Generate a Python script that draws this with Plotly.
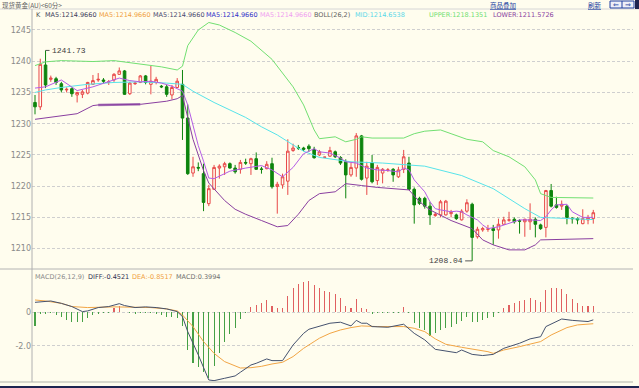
import plotly.graph_objects as go

# ---------------- data ----------------
opens = [1233.4,1232.7,1239.4,1237.1,1237.2,1236.4,1235.4,1235.6,1234.6,1234.7,
         1234.9,1236.3,1237.0,1237.0,1236.6,1237.0,1237.9,1238.45,1234.8,1236.4,
         1236.6,1237.65,1236.3,1236.6,1236.0,1235.9,1234.6,1235.8,1236.3,1230.9,
         1222.1,1223.0,1222.0,1217.2,1219.5,1222.9,1223.1,1223.6,1222.9,1222.7,
         1223.8,1223.6,1224.4,1222.75,1222.8,1223.6,1219.95,1220.2,1220.8,1225.7,
         1226.2,1226.1,1226.4,1225.9,1225.0,1224.6,1224.8,1225.5,1224.6,1223.9,
         1221.8,1222.9,1228.05,1221.3,1223.7,1220.9,1222.1,1222.55,1222.7,1221.5,
         1222.7,1223.7,1219.5,1218.05,1218.05,1216.8,1215.3,1215.4,1215.4,1215.6,
         1215.4,1214.6,1216.0,1217.1,1211.9,1213.0,1213.1,1213.2,1213.0,1213.9,
         1214.55,1214.7,1214.45,1214.3,1214.3,1214.7,1213.8,1213.4,1219.3,1217.0,
         1216.8,1216.8,1214.9,1214.8,1214.0,1214.6,1214.8]
highs = [1234.6,1240.4,1241.73,1237.7,1237.5,1236.7,1235.8,1235.8,1235.1,1235.4,
         1236.7,1237.8,1238.1,1237.3,1237.0,1238.1,1239.0,1238.6,1236.7,1236.7,
         1237.8,1237.8,1239.25,1237.5,1236.2,1236.2,1236.2,1237.3,1238.6,1233.1,
         1224.7,1223.8,1223.6,1220.2,1223.4,1223.5,1223.9,1223.8,1223.4,1224.2,
         1224.4,1224.55,1225.4,1223.1,1224.0,1224.55,1220.7,1222.0,1227.5,1226.8,
         1226.6,1226.3,1226.7,1226.3,1225.8,1224.7,1226.3,1225.7,1224.8,1224.3,
         1223.7,1228.5,1228.2,1223.9,1225.0,1223.4,1222.9,1222.9,1222.9,1223.1,
         1225.8,1224.7,1219.8,1218.3,1218.3,1217.5,1215.75,1217.8,1217.8,1216.2,
         1215.6,1216.3,1217.9,1217.35,1213.5,1213.5,1213.8,1213.8,1214.8,1215.1,
         1215.9,1215.0,1214.7,1214.8,1217.25,1215.0,1214.0,1219.4,1220.35,1218.3,
         1217.7,1217.0,1215.0,1215.0,1216.3,1215.4,1216.2]
lows = [1231.5,1232.2,1235.7,1236.7,1236.2,1235.0,1235.0,1234.3,1233.4,1234.1,
        1234.7,1236.2,1236.7,1236.5,1236.2,1236.7,1237.8,1234.6,1234.6,1236.2,
        1236.5,1236.3,1234.7,1236.3,1235.7,1234.3,1233.9,1235.7,1227.4,1221.8,
        1221.5,1222.4,1216.0,1216.8,1219.4,1221.2,1221.8,1222.8,1222.0,1222.0,
        1223.4,1221.8,1222.6,1222.0,1222.7,1219.6,1215.6,1219.6,1218.6,1225.5,
        1225.8,1225.6,1225.5,1224.4,1224.8,1224.5,1224.7,1224.5,1223.4,1218.05,
        1221.5,1221.5,1220.9,1218.6,1220.45,1220.2,1220.45,1222.3,1220.7,1221.3,
        1222.1,1219.4,1214.0,1217.0,1216.4,1213.8,1215.1,1215.0,1215.3,1215.0,
        1214.6,1214.5,1215.75,1208.04,1211.6,1212.7,1212.7,1210.6,1211.6,1213.8,
        1214.3,1214.0,1212.4,1211.9,1213.0,1211.8,1213.0,1211.8,1216.6,1216.4,
        1216.2,1213.9,1214.0,1213.9,1213.9,1213.9,1214.0]
closes = [1232.7,1239.5,1236.2,1237.3,1236.6,1235.4,1235.5,1234.8,1235.0,1235.1,
          1236.6,1236.9,1237.1,1236.8,1236.7,1237.9,1238.45,1234.7,1236.5,1236.5,
          1237.65,1236.6,1236.8,1237.1,1235.9,1234.7,1235.8,1236.8,1230.9,1222.0,
          1223.1,1222.9,1217.4,1219.6,1223.0,1223.2,1223.6,1222.9,1222.3,1223.8,
          1223.7,1224.4,1222.7,1222.7,1223.5,1219.9,1220.3,1221.5,1225.6,1226.1,
          1226.1,1225.9,1226.0,1224.55,1225.5,1224.65,1225.7,1224.7,1223.7,1221.8,
          1223.0,1228.05,1221.1,1223.2,1220.7,1223.0,1222.7,1222.6,1221.8,1222.6,
          1224.7,1219.5,1217.0,1217.25,1216.8,1215.4,1215.5,1217.5,1217.6,1215.8,
          1214.8,1216.0,1217.35,1211.8,1213.1,1213.2,1213.15,1212.9,1213.9,1214.6,
          1214.6,1214.3,1214.4,1214.7,1214.7,1213.9,1213.2,1219.3,1216.8,1216.6,
          1217.1,1215.0,1214.8,1214.6,1214.8,1215.0,1215.75]
bars = list(range(len(closes)))

ma5_idx = [0,2,5,8,11,14,16,18,20,22,24,26,28,29,30,31,32,33,34,37,40,43,45,47,49,51,53,
           54,56,58,59,61,63,65,67,69,70,71,72,74,75,76,77,79,80,81,82,84,85,86,88,90,92,
           94,96,97,98,99,101,102,104,106]
ma5_val = [1235.7,1235.9,1237.0,1235.3,1235.9,1236.7,1237.3,1236.9,1236.7,1236.8,1236.5,
           1236.0,1235.2,1233.0,1229.5,1226.5,1224.0,1221.3,1221.2,1222.4,1222.9,1223.3,
           1222.6,1221.5,1223.0,1225.2,1226.0,1225.5,1225.3,1224.5,1223.9,1223.7,1222.9,
           1222.6,1222.5,1222.3,1222.9,1222.6,1221.0,1219.1,1217.5,1216.4,1216.2,1215.9,
           1216.0,1215.9,1215.4,1214.6,1213.8,1213.2,1213.5,1214.0,1214.6,1214.6,1214.5,
           1215.1,1216.2,1217.0,1217.1,1215.9,1215.0,1215.0]

mid_idx = [0,2,5,10,15,20,25,28,30,34,37,40,43,46,49,51,54,57,60,66,71,74,81,87,93,96,106]
mid_val = [1235.0,1235.4,1235.8,1236.3,1236.6,1236.7,1236.5,1236.3,1235.2,1233.4,1232.2,
           1231.0,1229.5,1228.2,1226.6,1225.6,1224.6,1224.2,1223.9,1223.7,1223.4,1223.2,
           1221.7,1219.6,1216.4,1215.0,1214.65]

upper_idx = [0,2,5,8,11,15,18,21,24,27,28,29,31,33,35,38,41,45,49,51,53,54,57,59,61,62,
             64,70,72,74,77,79,82,85,87,90,93,95,96,98,101,106]
upper_val = [1239.3,1239.9,1240.1,1240.05,1239.95,1240.1,1239.8,1239.4,1239.1,1238.6,
             1239.2,1242.5,1245.0,1246.2,1245.8,1244.6,1243.2,1240.3,1235.9,1233.0,
             1229.0,1227.6,1227.9,1227.1,1227.5,1227.9,1227.7,1227.7,1228.4,1228.8,
             1229.0,1228.4,1227.5,1227.1,1225.7,1224.7,1223.1,1221.0,1218.8,1218.2,
             1218.2,1218.1]

lower_idx = [0,8,11,12,20,25,27,28,29,30,31,32,33,34,36,38,40,43,46,48,50,52,54,57,59,
             62,65,71,73,75,79,83,85,87,90,93,95,96,100,106]
lower_val = [1230.7,1231.6,1232.9,1233.0,1233.1,1233.6,1234.0,1234.5,1231.0,1227.5,
             1225.0,1222.5,1220.5,1219.6,1217.7,1216.3,1215.5,1214.5,1213.5,1213.7,
             1215.5,1217.7,1218.8,1219.1,1220.4,1220.1,1219.8,1219.4,1217.5,1216.2,
             1214.5,1213.2,1211.4,1210.6,1209.8,1209.8,1210.6,1211.4,1211.5,1211.6]

macd_hist = [-0.79,-0.12,-0.10,-0.06,-0.16,-0.30,-0.46,-0.55,-0.59,-0.59,
             -0.36,-0.16,-0.08,-0.04,-0.02,0.24,0.38,0.02,-0.02,-0.08,
             -0.03,-0.03,-0.03,-0.10,-0.16,-0.26,-0.30,-0.36,-0.81,-2.24,
             -3.03,-3.23,-3.52,-3.88,-3.17,-2.44,-1.78,-1.31,-0.91,-0.40,
             -0.06,0.34,0.44,0.53,0.73,0.36,0.24,0.28,0.97,1.43,
             1.68,1.82,1.88,1.62,1.43,1.27,1.23,1.07,0.83,0.38,
             0.24,0.79,0.28,0.20,-0.10,-0.06,-0.03,-0.03,-0.03,-0.02,
             0.34,-0.03,-0.65,-0.91,-1.05,-1.39,-1.25,-1.05,-0.95,-0.85,
             -0.71,-0.50,-0.26,-0.55,-0.55,-0.46,-0.36,-0.26,-0.02,0.24,
             0.44,0.57,0.67,0.75,0.83,0.75,0.63,1.33,1.43,1.43,
             1.39,1.07,0.79,0.53,0.40,0.36,0.40]

diff_idx = [0,1,3,5,7,9,10,12,14,16,17,19,21,23,25,27,28,29,31,33,34,36,38,39,41,42,44,
            45,47,49,51,52,54,56,58,60,61,62,63,64,67,70,72,74,76,78,80,81,83,85,87,89,92,
            94,96,97,100,102,105,106]
diff_val = [0.59,0.63,0.67,0.53,0.34,0.04,0.08,0.28,0.34,0.51,0.40,0.28,0.32,0.28,0.20,
            0.04,-0.26,-1.15,-2.53,-4.02,-4.06,-3.92,-3.78,-3.56,-3.13,-3.03,-2.77,-2.87,
            -2.87,-1.94,-1.25,-1.01,-0.85,-0.65,-0.59,-0.81,-0.48,-0.65,-0.65,-0.85,-0.89,
            -0.71,-1.25,-1.64,-2.20,-2.30,-2.40,-2.24,-2.50,-2.57,-2.50,-2.14,-1.84,-1.58,
            -1.45,-0.85,-0.40,-0.48,-0.55,-0.45]

dea_idx = [0,2,5,7,10,12,15,19,22,25,27,28,30,32,34,36,38,39,41,43,45,47,49,51,53,54,56,
           58,60,62,65,70,72,74,76,78,81,83,86,87,89,92,96,98,101,103,106]
dea_val = [0.73,0.67,0.53,0.34,0.28,0.30,0.32,0.30,0.28,0.20,0.08,-0.16,-0.85,-1.74,-2.44,
           -2.93,-3.19,-3.31,-3.29,-3.21,-3.07,-2.97,-2.63,-2.14,-1.74,-1.54,-1.25,-1.05,
           -0.91,-0.81,-0.85,-0.85,-0.95,-1.15,-1.58,-1.90,-2.08,-2.18,-2.34,-2.44,-2.24,
           -2.04,-1.74,-1.35,-0.91,-0.75,-0.68]

y_ticks = [1210, 1215, 1220, 1225, 1230, 1235, 1240, 1245]
y_ticktext = ["1210", "1215", "1220", "1225", "1230", "1235", "1240", "1245"]
macd_ticks = [0, -2.0]
macd_ticktext = ["0", "-2.0"]

# ---------------- layout helpers (pixel geometry) ----------------
W, H = 639, 388
ML, MR, MT, MB = 32, 6, 10, 6
PW, PH = W - ML - MR, H - MT - MB
def px(x):
    return (x - ML) / PW
def py(y):
    return (H - MB - y) / PH

BG = "#fffdee"
RED = "#e84848"
GREEN = "#0d840d"

fig = go.Figure()

fig.add_trace(go.Candlestick(
    x=bars, open=opens, high=highs, low=lows, close=closes,
    increasing=dict(line=dict(color=RED, width=1), fillcolor=BG),
    decreasing=dict(line=dict(color=GREEN, width=1), fillcolor=GREEN),
    whiskerwidth=0, xaxis="x", yaxis="y", hoverinfo="skip", showlegend=False))

# thicker highlighted stretch of the lower band seen in the reference
seg = [(i, v) for i, v in zip(lower_idx, lower_val) if 12 <= i <= 20]
fig.add_trace(go.Scatter(x=[s[0] for s in seg], y=[s[1] for s in seg], mode="lines",
                         line=dict(color="#a878b8", width=2.5), xaxis="x", yaxis="y",
                         hoverinfo="skip", showlegend=False))

for xs, ys, col in [(upper_idx, upper_val, "#72e072"),
                    (mid_idx, mid_val, "#58e4ea"),
                    (lower_idx, lower_val, "#8a3fa0"),
                    (ma5_idx, ma5_val, "#b45ce6")]:
    fig.add_trace(go.Scatter(x=xs, y=ys, mode="lines", line=dict(color=col, width=1),
                             xaxis="x", yaxis="y", hoverinfo="skip", showlegend=False))

hist_colors = ["#e06060" if v >= 0 else "#45a045" for v in macd_hist]
fig.add_trace(go.Bar(x=bars, y=macd_hist, width=0.2, marker=dict(color=hist_colors, line=dict(width=0)),
                     xaxis="x2", yaxis="y2", hoverinfo="skip", showlegend=False))
fig.add_trace(go.Scatter(x=dea_idx, y=dea_val, mode="lines", line=dict(color="#f2a544", width=1),
                         xaxis="x2", yaxis="y2", hoverinfo="skip", showlegend=False))
fig.add_trace(go.Scatter(x=diff_idx, y=diff_val, mode="lines", line=dict(color="#45526e", width=1),
                         xaxis="x2", yaxis="y2", hoverinfo="skip", showlegend=False))

xr = [-0.57, 113.54]
tickfont = dict(family="DejaVu Sans", size=8, color="#8a8a8a")
grid = dict(showgrid=True, gridcolor="#cfcfcf", gridwidth=1, griddash="3px,2px", zeroline=False)

fig.update_layout(
    width=W, height=H, margin=dict(l=ML, r=MR, t=MT, b=MB, autoexpand=False),
    paper_bgcolor=BG, plot_bgcolor=BG, showlegend=False, bargap=0, hovermode=False,
    xaxis=dict(domain=[0, 1], range=xr, visible=False, rangeslider=dict(visible=False),
               fixedrange=True),
    yaxis=dict(domain=[py(268), 1], range=[1206.9, 1248.2], tickvals=y_ticks,
               ticktext=y_ticktext, tickfont=tickfont, ticks="", automargin=False, **grid),
    xaxis2=dict(domain=[0, 1], range=xr, visible=False, anchor="y2"),
    yaxis2=dict(domain=[0, py(270)], range=[-4.14, 2.51], tickvals=macd_ticks,
                ticktext=macd_ticktext, tickfont=tickfont, ticks="", anchor="x2",
                automargin=False, **grid),
)

shapes = []
def hline(y, x0, x1, color, w=1):
    shapes.append(dict(type="line", xref="paper", yref="paper", x0=px(x0), x1=px(x1),
                       y0=py(y), y1=py(y), line=dict(color=color, width=w)))
hline(9, 0, W, "#d6d6d6")
hline(269, 0, 633, "#b4b4b4")
hline(382, 0, 633, "#d8d8cc", 2)
hline(387, 0, W, "#1e2450", 2)
shapes.append(dict(type="line", xref="paper", yref="paper", x0=px(32), x1=px(32),
                   y0=py(9), y1=py(382), line=dict(color="#b0b0b0", width=1)))
shapes.append(dict(type="rect", xref="paper", yref="paper", x0=px(635), x1=px(640),
                   y0=py(9), y1=py(-1), fillcolor="#1e2450", line=dict(width=0)))
# small boxed arrow button at top-right
shapes.append(dict(type="rect", xref="paper", yref="paper", x0=px(610), x1=px(634),
                   y0=py(8), y1=py(1), fillcolor="#eef0f8", line=dict(color="#2040a0", width=1)))
shapes.append(dict(type="line", xref="paper", yref="paper", x0=px(622), x1=px(622),
                   y0=py(8), y1=py(1), line=dict(color="#2040a0", width=1)))
fig.update_layout(shapes=shapes)

ann = []
def txt(x, y, s, color, size=6.5, family="DejaVu Sans", anchor="left"):
    ann.append(dict(xref="paper", yref="paper", x=px(x), y=py(y), text=s, showarrow=False,
                    xanchor=anchor, yanchor="middle", font=dict(family=family, size=size, color=color)))

hdr = [(33.5, "K", "#505050"), (42.7, "MA5:1214.9660", "#3c3c5a"),
       (96.7, "MA5:1214.9660", "#f0a040"), (150.7, "MA5:1214.9660", "#4a4a70"),
       (204.3, "MA5:1214.9660", "#3030c8"), (258.3, "MA5:1214.9660", "#f0a0f0"),
       (311.7, "BOLL(26,2)", "#606060"), (353.3, "MID:1214.6538", "#58d8e8"),
       (426.7, "UPPER:1218.1351", "#70e070"), (490.7, "LOWER:1211.5726", "#8a3fa0")]
for x, s, c in hdr:
    txt(x, 15, s, c)

mh = [(33.3, "MACD(26,12,9)", "#8a8a8a"), (86, "DIFF:-0.4521", "#303050"),
      (130, "DEA:-0.8517", "#f0a040"), (174, "MACD:0.3994", "#707070")]
for x, s, c in mh:
    txt(x, 277, s, c)

txt(0, 4.6, "现货黄金(AU)<60分>", "#606060", size=6.5, family="Noto Sans CJK SC")
txt(488, 4.6, "<u>商品叠加</u>", "#2040a0", size=6.5, family="Noto Sans CJK SC")
txt(586, 4.6, "<u>刷新</u>", "#2040a0", size=6.5, family="Noto Sans CJK SC")
txt(616, 4.6, "⇐", "#2040a0", size=7, anchor="center")
txt(628, 4.6, "⇒", "#2040a0", size=7, anchor="center")

ann.append(dict(x=2, y=1241.73, xref="x", yref="y", text="1241.73", showarrow=True,
                arrowhead=0, arrowwidth=1, arrowcolor="#555555", ax=4, ay=0,
                xanchor="left", yanchor="middle",
                font=dict(family="Liberation Mono", size=8, color="#404040")))
ann.append(dict(x=83, y=1208.04, xref="x", yref="y", text="1208.04", showarrow=True,
                arrowhead=0, arrowwidth=1, arrowcolor="#555555", ax=-7, ay=0,
                xanchor="right", yanchor="middle",
                font=dict(family="Liberation Mono", size=8, color="#404040")))
fig.update_layout(annotations=ann)

fig.write_html("out.html", config={"displayModeBar": False, "staticPlot": True},
               post_script="document.body.style.margin='0';document.body.style.background='%s';" % BG)
